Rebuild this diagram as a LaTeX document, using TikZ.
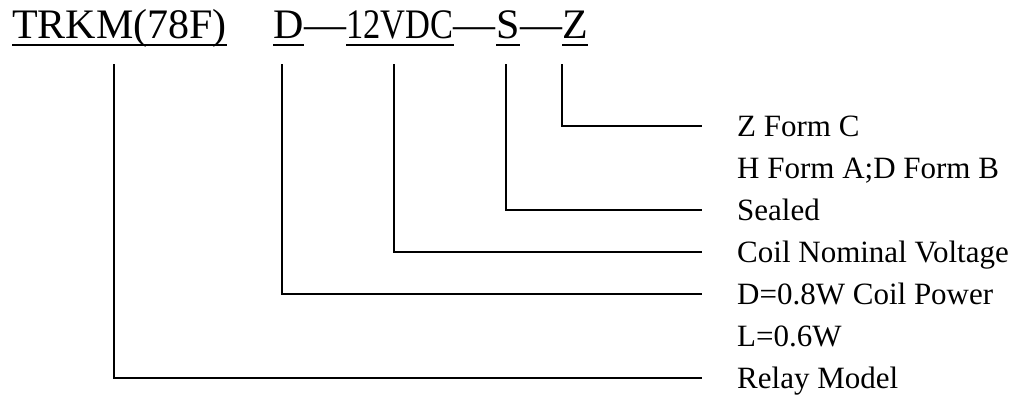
\documentclass[tikz,border=0pt]{standalone}
\usepackage{fontspec}
\setmainfont{Liberation Serif}
\usetikzlibrary{positioning}

\begin{document}
\begin{tikzpicture}
	[x=1pt,y=-1pt,
	part/.style={inner sep=0pt,anchor=base west,font=\fontsize{42}{48}\selectfont},
	desc/.style={inner sep=0pt,anchor=west,text height=21pt,text depth=0pt,font=\fontsize{31}{36}\selectfont},
	lead/.style={line width=1.6pt},
	uline/.style={line width=2.6pt}]
	\useasboundingbox (0,0) rectangle (1022,400);
	\node[part] (model)   at (12,38) {TRKM(78F)};
	\node[part] (coil)    at ([xshift=46pt]model.base east) {D};
	\node[part] (dasha)   at (coil.base east) {—};
	\node[part] (volt)    at (dasha.base east) {\scalebox{0.82}[1]{12VDC}};
	\node[part] (dashb)   at (volt.base east) {—};
	\node[part] (seal)    at (dashb.base east) {S};
	\node[part] (dashc)   at (seal.base east) {—};
	\node[part] (contact) at (dashc.base east) {Z};
	\foreach \n in {model,coil,volt,seal,contact}
		\draw[uline] ([yshift=-7pt]\n.base west) -- ([yshift=-7pt]\n.base east);
	\coordinate (modeltop)   at (114,64);
	\coordinate (coiltop)    at (282,64);
	\coordinate (volttop)    at (394,64);
	\coordinate (sealtop)    at (506,64);
	\coordinate (contacttop) at (562,64);
	\node[desc] (zform)   at (737,126) {Z Form C};
	\node[desc] (hform)   at (737,168) {H Form A;D Form B};
	\node[desc] (sealed)  at (737,210) {Sealed};
	\node[desc] (voltage) at (737,252) {Coil Nominal Voltage};
	\node[desc] (power)   at (737,294) {D=0.8W Coil Power};
	\node[desc] (lpower)  at (737,336) {L=0.6W};
	\node[desc] (relay)   at (737,378) {Relay Model};
	\draw[lead] (contacttop) |- ([xshift=-35pt]zform.west);
	\draw[lead] (sealtop)    |- ([xshift=-35pt]sealed.west);
	\draw[lead] (volttop)    |- ([xshift=-35pt]voltage.west);
	\draw[lead] (coiltop)    |- ([xshift=-35pt]power.west);
	\draw[lead] (modeltop)   |- ([xshift=-35pt]relay.west);
\end{tikzpicture}
\end{document}
